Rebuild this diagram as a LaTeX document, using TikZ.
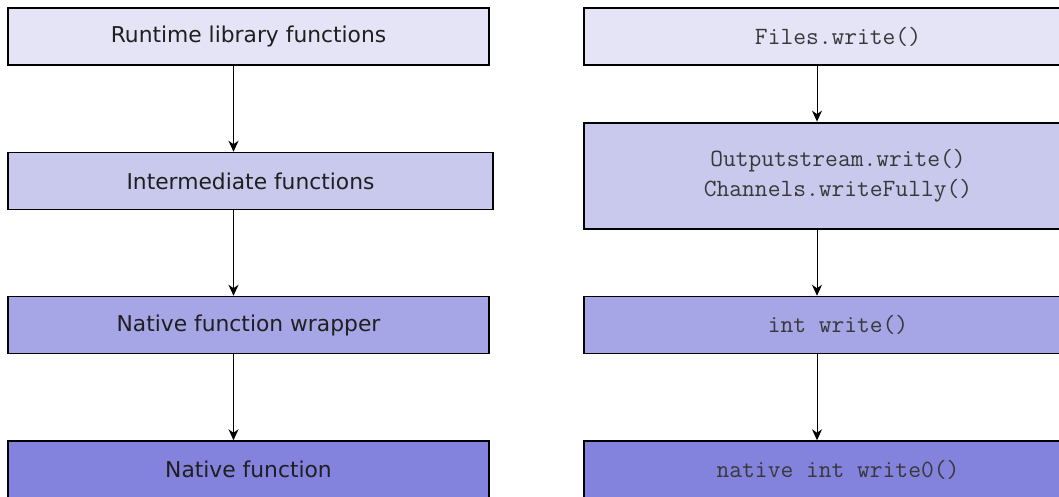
\documentclass[tikz,border=0pt]{standalone}
\usepackage{fontspec}
\setmainfont{DejaVu Sans}
\usetikzlibrary{arrows.meta}
\definecolor{tierA}{HTML}{E4E4F6}
\definecolor{tierB}{HTML}{C9C9EE}
\definecolor{tierC}{HTML}{A6A5E6}
\definecolor{tierD}{HTML}{8382DD}
\begin{document}
\begin{tikzpicture}[
    x=1pt, y=-1pt,
    layer/.style={draw=black, line width=1.5pt, minimum height=57pt,
      inner sep=0pt, text=black!88, font=\fontsize{21.8}{30}\selectfont},
    codelayer/.style={layer, text=black!78,
      font=\ttfamily\fontsize{24.8}{30}\selectfont, align=center},
    flow/.style={-{Stealth[length=11pt,width=10pt,inset=3.5pt]}, line width=1pt}
  ]
  \useasboundingbox (0,0) rectangle (1059,496);
  \clip (0,0) rectangle (1059,496);
  % left column
  \node[layer, fill=tierA, minimum width=481pt] (rt) at (248.5,36.5) {Runtime library functions};
  \node[layer, fill=tierB, minimum width=485pt] (im) at (250.5,181) {Intermediate functions};
  \node[layer, fill=tierC, minimum width=481pt] (nw) at (248.5,325) {Native function wrapper};
  \node[layer, fill=tierD, minimum width=481pt] (nf) at (248.5,469.5) {Native function};
  \draw[flow] ([xshift=-15pt]rt.south) -- ([xshift=-15pt]rt.south |- im.north);
  \draw[flow] ([xshift=-15pt]rt.south |- im.south) -- ([xshift=-15pt]rt.south |- nw.north);
  \draw[flow] ([xshift=-15pt]nw.south) -- ([xshift=-15pt]nw.south |- nf.north);
  % right column
  \node[codelayer, fill=tierA, minimum width=508pt] (fw) at (838,36.5) {Files.write()};
  \node[codelayer, fill=tierB, minimum width=508pt, minimum height=106pt, line width=2.8pt]
    (os) at (838,176) {Outputstream.write()\\Channels.writeFully()};
  \node[codelayer, fill=tierC, minimum width=508pt] (iw) at (838,325) {int write()};
  \node[codelayer, fill=tierD, minimum width=508pt] (nw0) at (838,469.5) {native int write0()};
  \draw[flow] ([xshift=-21pt]fw.south) -- ([xshift=-21pt]fw.south |- os.north);
  \draw[flow] ([xshift=-21pt]os.south) -- ([xshift=-21pt]os.south |- iw.north);
  \draw[flow] ([xshift=-21pt]iw.south) -- ([xshift=-21pt]iw.south |- nw0.north);
\end{tikzpicture}
\end{document}
